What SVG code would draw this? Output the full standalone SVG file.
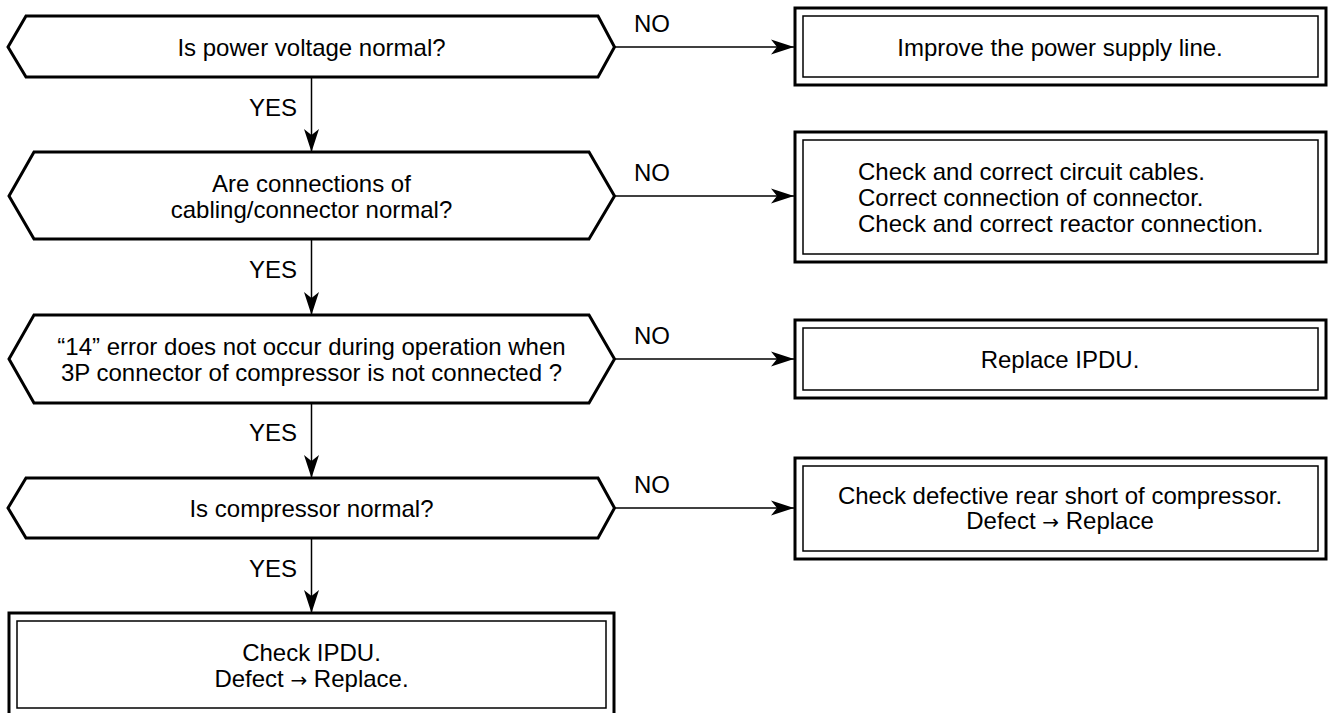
<svg xmlns="http://www.w3.org/2000/svg" width="1329" height="713" viewBox="0 0 1329 713">
<defs>
<style>
.hex{fill:#fff;stroke:#000;stroke-width:3;stroke-linejoin:miter}
.outer{fill:#fff;stroke:#000;stroke-width:3}
.inner{fill:none;stroke:#000;stroke-width:1.5}
.t{font-family:"Liberation Sans",Arial,sans-serif;font-size:24px;fill:#000}
.c{text-anchor:middle}
.ar{font-family:"DejaVu Sans",sans-serif;font-size:20px}
.conn{stroke:#000;stroke-width:1.5;fill:none;marker-end:url(#ah)}
</style>
<marker id="ah" markerUnits="userSpaceOnUse" markerWidth="24" markerHeight="16" refX="23" refY="7.5" orient="auto" viewBox="0 0 24 15">
<path d="M23,7.5 L0,0 L6,7.5 L0,15 Z" fill="#000"/>
</marker>
</defs>
<rect width="1329" height="713" fill="#fff"/>
<g id="connectors">
<line class="conn" x1="311.5" y1="77" x2="311.5" y2="152"/>
<line class="conn" x1="311.5" y1="239" x2="311.5" y2="315"/>
<line class="conn" x1="311.5" y1="403" x2="311.5" y2="478"/>
<line class="conn" x1="311.5" y1="538" x2="311.5" y2="613"/>
<line class="conn" x1="614.5" y1="47" x2="794" y2="47"/>
<line class="conn" x1="614.5" y1="196" x2="794" y2="196"/>
<line class="conn" x1="614.5" y1="359" x2="794" y2="359"/>
<line class="conn" x1="614.5" y1="508" x2="794" y2="508"/>
<text class="t c" x="273" y="115.6">YES</text>
<text class="t c" x="273" y="277.6">YES</text>
<text class="t c" x="273" y="440.6">YES</text>
<text class="t c" x="273" y="576.6">YES</text>
<text class="t c" x="652" y="31.6">NO</text>
<text class="t c" x="652" y="180.6">NO</text>
<text class="t c" x="652" y="343.6">NO</text>
<text class="t c" x="652" y="492.6">NO</text>
</g>
<g id="d1">
<polygon class="hex" points="8,47 26,16 598,16 614.5,47 598,77 26,77"/>
<text class="t c" x="311.5" y="55.6">Is power voltage normal?</text>
</g>
<g id="d2">
<polygon class="hex" points="9,196 34,152 589,152 614.5,196 589,239 34,239"/>
<text class="t c" x="311.5" y="191.6">Are connections of</text>
<text class="t c" x="311.5" y="217.6">cabling/connector normal?</text>
</g>
<g id="d3">
<polygon class="hex" points="9,359 34,315 589,315 614.5,359 589,403 34,403"/>
<text class="t c" x="311.5" y="354.6">“14” error does not occur during operation when</text>
<text class="t c" x="311.5" y="380.6">3P connector of compressor is not connected ?</text>
</g>
<g id="d4">
<polygon class="hex" points="8,508 26,478 598,478 614.5,508 598,538 26,538"/>
<text class="t c" x="311.5" y="516.6">Is compressor normal?</text>
</g>
<g id="b1">
<rect class="outer" x="795" y="8" width="531" height="77"/>
<rect class="inner" x="803" y="16" width="515" height="61"/>
<text class="t c" x="1060" y="55.6">Improve the power supply line.</text>
</g>
<g id="b2">
<rect class="outer" x="795" y="132" width="531" height="130"/>
<rect class="inner" x="803" y="140" width="515" height="114"/>
<text class="t" x="858" y="179.6">Check and correct circuit cables.</text>
<text class="t" x="858" y="205.6">Correct connection of connector.</text>
<text class="t" x="858" y="231.6">Check and correct reactor connection.</text>
</g>
<g id="b3">
<rect class="outer" x="795" y="320" width="531" height="78"/>
<rect class="inner" x="803" y="328" width="515" height="62"/>
<text class="t c" x="1060" y="367.6">Replace IPDU.</text>
</g>
<g id="b4">
<rect class="outer" x="795" y="458" width="531" height="101"/>
<rect class="inner" x="803" y="466" width="515" height="85"/>
<text class="t c" x="1060" y="503.6">Check defective rear short of compressor.</text>
<text class="t c" x="1060" y="528.6">Defect <tspan class="ar">→</tspan> Replace</text>
</g>
<g id="b5">
<rect class="outer" x="9" y="613" width="605" height="110"/>
<rect class="inner" x="17" y="621" width="589" height="87"/>
<text class="t c" x="311.5" y="660.6">Check IPDU.</text>
<text class="t c" x="311.5" y="686.6">Defect <tspan class="ar">→</tspan> Replace.</text>
</g>
</svg>
